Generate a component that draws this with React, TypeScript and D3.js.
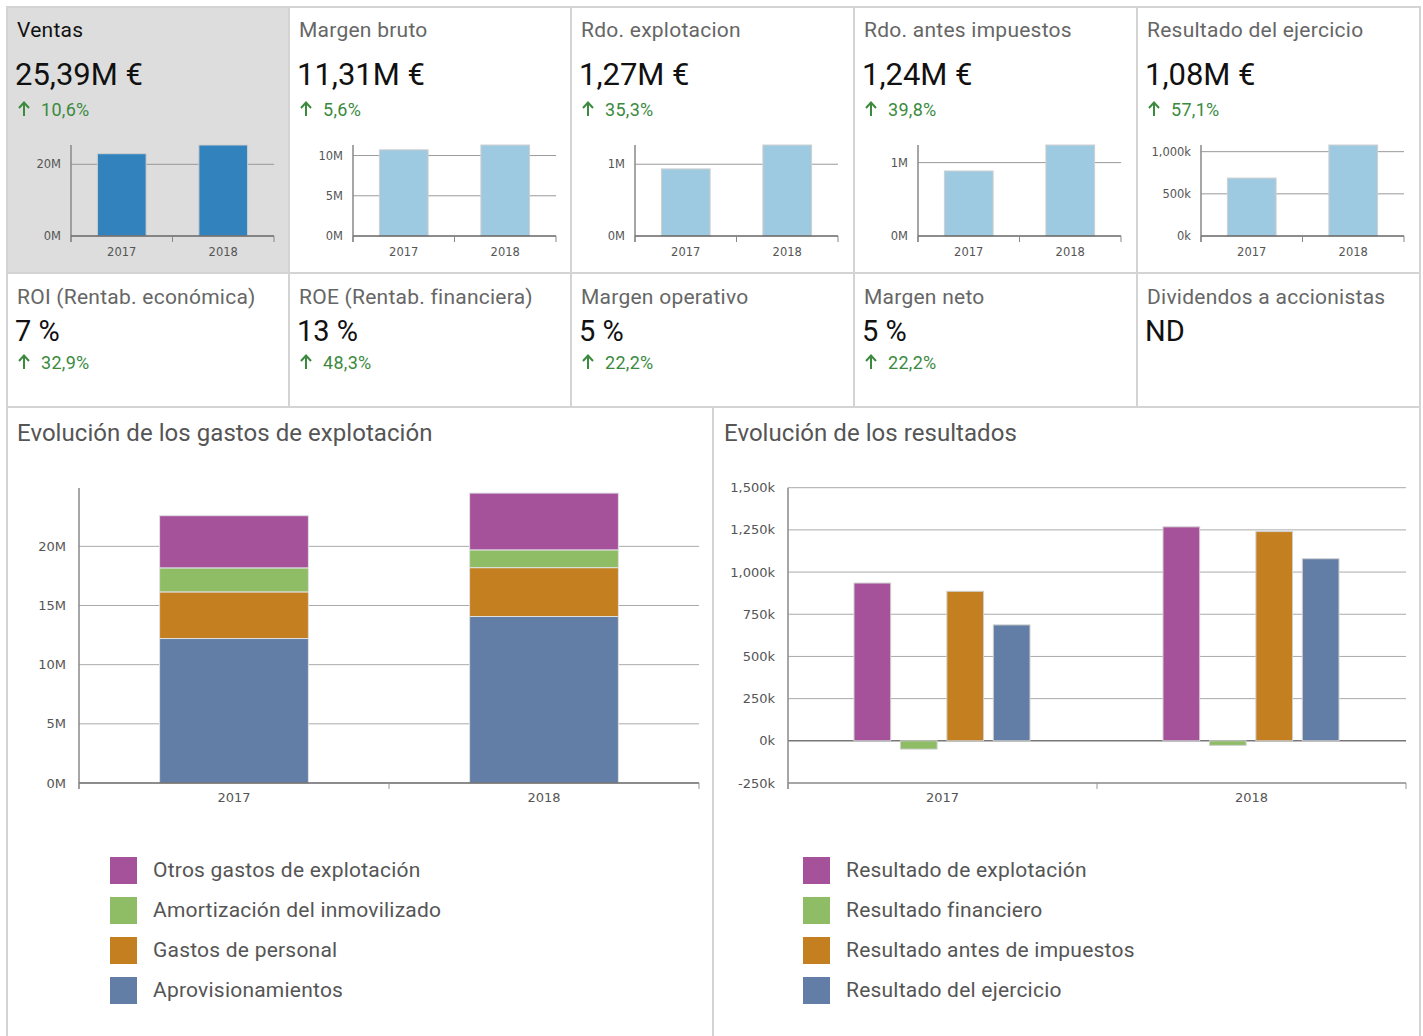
import React from 'react';
import * as d3 from 'd3';

const years = ['2017', '2018'];

const kpiTitles = ['Ventas', 'Margen bruto', 'Rdo. explotacion', 'Rdo. antes impuestos', 'Resultado del ejercicio'];
const kpiValues = ['25,39M €', '11,31M €', '1,27M €', '1,24M €', '1,08M €'];
const kpiChanges = ['10,6%', '5,6%', '35,3%', '39,8%', '57,1%'];

const ventas = [22.96e6, 25.39e6];
const margenBruto = [10.71e6, 11.31e6];
const rdoExplotacion = [0.935e6, 1.268e6];
const rdoAntesImpuestos = [0.886e6, 1.24e6];
const resultadoEjercicio = [0.687e6, 1.079e6];

const miniTicks = [
  [0, 20e6],
  [0, 5e6, 10e6],
  [0, 1e6],
  [0, 1e6],
  [0, 500e3, 1000e3],
];
const miniTickUnit = ['M', 'M', 'M', 'M', 'k'];

const ratioTitles = ['ROI (Rentab. económica)', 'ROE (Rentab. financiera)', 'Margen operativo', 'Margen neto', 'Dividendos a accionistas'];
const ratioValues = ['7 %', '13 %', '5 %', '5 %', 'ND'];
const ratioChanges = ['32,9%', '48,3%', '22,2%', '22,2%', ''];

// Gastos de explotación (stacked)
const gastosSeries = ['Aprovisionamientos', 'Gastos de personal', 'Amortización del inmovilizado', 'Otros gastos de explotación'];
const aprovisionamientos = [12.21e6, 14.07e6];
const gastosPersonal = [3.94e6, 4.13e6];
const amortizacion = [2.03e6, 1.5e6];
const otrosGastos = [4.41e6, 4.8e6];
const gastosTicks = [0, 5e6, 10e6, 15e6, 20e6];

// Resultados (grouped)
const resultadosSeries = ['Resultado de explotación', 'Resultado financiero', 'Resultado antes de impuestos', 'Resultado del ejercicio'];
const resExplotacion = [935e3, 1268e3];
const resFinanciero = [-49e3, -27e3];
const resAntesImpuestos = [886e3, 1240e3];
const resEjercicio = [687e3, 1079e3];
const resultadosTicks = [-250e3, 0, 250e3, 500e3, 750e3, 1000e3, 1250e3, 1500e3];

const C_PURPLE = '#a6529a';
const C_GREEN = '#8fbd66';
const C_ORANGE = '#c48020';
const C_BLUE = '#627ea6';
const C_DARKBLUE = '#3182bd';
const C_LIGHTBLUE = '#9ecae1';
const GREEN_TXT = '#3b8a3e';
const FRAME = '#d4d4d4';
const ROBOTO = 'Roboto, sans-serif';
const DEJAVU = '"DejaVu Sans", sans-serif';

const colX = [7, 289, 571, 854, 1137, 1420];

const fmtNum = (v: number) => d3.format(',')(v).replace('−', '-');

function Arrow({ x, y }: { x: number; y: number }) {
  return (
    <g stroke={GREEN_TXT} fill="none" strokeWidth={2}>
      <line x1={x} x2={x} y1={y} y2={y - 13} />
      <path d={`M${x - 5},${y - 8} L${x},${y - 13.5} L${x + 5},${y - 8}`} />
    </g>
  );
}

function MiniChart({ x0, values, ticks, unit, color }: any) {
  const left = x0 + 64;
  const right = x0 + 267;
  const top = 145;
  const bottom = 236;
  const xs = d3.scaleBand().domain(years).range([left, right]).padding(0);
  const ys = d3.scaleLinear().domain([0, d3.max(values) as number]).range([bottom, top]);
  const bw = xs.bandwidth() * 0.48;
  const fmt = (v: number) => (unit === 'M' ? fmtNum(v / 1e6) + 'M' : fmtNum(v / 1e3) + 'k');
  return (
    <g>
      {ticks.filter((t: number) => t !== 0).map((t: number) => (
        <line key={t} x1={left} x2={right} y1={ys(t)} y2={ys(t)} stroke="#999" strokeWidth={1} />
      ))}
      {values.map((v: number, i: number) => {
        const cx = (xs(years[i]) as number) + xs.bandwidth() / 2;
        return (
          <rect key={i} x={cx - bw / 2} y={ys(v)} width={bw} height={ys(0) - ys(v)} fill={color} stroke="#cfcfcf" strokeWidth={1} />
        );
      })}
      <line x1={left} x2={left} y1={top} y2={bottom + 6} stroke="#888" strokeWidth={1.5} />
      <line x1={left} x2={right} y1={bottom} y2={bottom} stroke="#666" strokeWidth={1.5} />
      {[left, (left + right) / 2, right].map((x, i) => (
        <line key={i} x1={x} x2={x} y1={bottom} y2={bottom + 6} stroke="#888" strokeWidth={1} />
      ))}
      {ticks.map((t: number) => (
        <text key={t} x={left - 10} y={ys(t) + 4} textAnchor="end" fontFamily={DEJAVU} fontSize={11.5} fill="#555">
          {fmt(t)}
        </text>
      ))}
      {years.map((yr) => (
        <text key={yr} x={(xs(yr) as number) + xs.bandwidth() / 2} y={bottom + 20} textAnchor="middle" fontFamily={DEJAVU} fontSize={11.5} fill="#555">
          {yr}
        </text>
      ))}
    </g>
  );
}

function Legend({ x, items, colors }: any) {
  return (
    <g>
      {items.map((it: string, i: number) => (
        <g key={it}>
          <rect x={x} y={857 + i * 40} width={27} height={27} fill={colors[i]} />
          <text x={x + 43} y={877 + i * 40} fontFamily={ROBOTO} fontSize={21} letterSpacing={0.22} fill="#555">
            {it}
          </text>
        </g>
      ))}
    </g>
  );
}

function GastosChart() {
  const left = 79, right = 699, top = 488, bottom = 783;
  const xs = d3.scaleBand().domain(years).range([left, right]).padding(0);
  const ys = d3.scaleLinear().domain([0, 24.93e6]).range([bottom, top]);
  const rows = years.map((y, i) => ({
    year: y,
    a: aprovisionamientos[i],
    g: gastosPersonal[i],
    am: amortizacion[i],
    o: otrosGastos[i],
  }));
  const keys = ['a', 'g', 'am', 'o'];
  const colors = [C_BLUE, C_ORANGE, C_GREEN, C_PURPLE];
  const stack = d3.stack<any>().keys(keys)(rows);
  const bw = xs.bandwidth() * 0.48;
  return (
    <g>
      {gastosTicks.filter((t) => t !== 0).map((t) => (
        <line key={t} x1={left} x2={right} y1={ys(t)} y2={ys(t)} stroke="#aaa" strokeWidth={1} />
      ))}
      {stack.map((layer, li) =>
        layer.map((d, i) => {
          const cx = (xs(years[i]) as number) + xs.bandwidth() / 2;
          return (
            <rect key={li + '-' + i} x={cx - bw / 2} y={ys(d[1])} width={bw} height={ys(d[0]) - ys(d[1])} fill={colors[li]} stroke="#e0e0e0" strokeWidth={1} />
          );
        })
      )}
      <line x1={left} x2={left} y1={top} y2={bottom + 6} stroke="#888" strokeWidth={1.5} />
      <line x1={left} x2={right} y1={bottom} y2={bottom} stroke="#666" strokeWidth={1.5} />
      {[left, (left + right) / 2, right].map((x, i) => (
        <line key={i} x1={x} x2={x} y1={bottom} y2={bottom + 6} stroke="#999" strokeWidth={1} />
      ))}
      {gastosTicks.map((t) => (
        <text key={t} x={left - 13} y={ys(t) + 4.5} textAnchor="end" fontFamily={DEJAVU} fontSize={13} fill="#555">
          {fmtNum(t / 1e6) + 'M'}
        </text>
      ))}
      {years.map((yr) => (
        <text key={yr} x={(xs(yr) as number) + xs.bandwidth() / 2} y={bottom + 19} textAnchor="middle" fontFamily={DEJAVU} fontSize={13} fill="#555">
          {yr}
        </text>
      ))}
    </g>
  );
}

function ResultadosChart() {
  const left = 788, right = 1406, top = 487.7, bottom = 783;
  const xs = d3.scaleBand().domain(years).range([left, right]).padding(0);
  const ys = d3.scaleLinear().domain([-250e3, 1500e3]).range([bottom, top]);
  const series = [resExplotacion, resFinanciero, resAntesImpuestos, resEjercicio];
  const colors = [C_PURPLE, C_GREEN, C_ORANGE, C_BLUE];
  const inner = d3.scaleBand().domain(resultadosSeries).range([66, 242]).paddingInner(0.21).paddingOuter(0);
  return (
    <g>
      {resultadosTicks.filter((t) => t !== -250e3 && t !== 0).map((t) => (
        <line key={t} x1={left} x2={right} y1={ys(t)} y2={ys(t)} stroke="#aaa" strokeWidth={1} />
      ))}
      <line x1={left} x2={right} y1={ys(0)} y2={ys(0)} stroke="#777" strokeWidth={1.5} />
      {years.map((yr, i) =>
        series.map((s, si) => {
          const x = (xs(yr) as number) + (inner(resultadosSeries[si]) as number);
          const v = s[i];
          const y0 = ys(Math.max(0, v));
          const h = Math.abs(ys(v) - ys(0));
          return (
            <rect key={yr + si} x={x} y={y0} width={inner.bandwidth()} height={h} fill={colors[si]} stroke="#d0d0d0" strokeWidth={1} />
          );
        })
      )}
      <line x1={left} x2={left} y1={top} y2={bottom + 6} stroke="#888" strokeWidth={1.5} />
      <line x1={left} x2={right} y1={bottom} y2={bottom} stroke="#888" strokeWidth={1.5} />
      {[left, (left + right) / 2, right].map((x, i) => (
        <line key={i} x1={x} x2={x} y1={bottom} y2={bottom + 6} stroke="#999" strokeWidth={1} />
      ))}
      {resultadosTicks.map((t) => (
        <text key={t} x={left - 13} y={ys(t) + 4.5} textAnchor="end" fontFamily={DEJAVU} fontSize={13} fill="#555">
          {fmtNum(t / 1e3) + 'k'}
        </text>
      ))}
      {years.map((yr) => (
        <text key={yr} x={(xs(yr) as number) + xs.bandwidth() / 2} y={bottom + 19} textAnchor="middle" fontFamily={DEJAVU} fontSize={13} fill="#555">
          {yr}
        </text>
      ))}
    </g>
  );
}

export default function App() {
  const miniValues = [ventas, margenBruto, rdoExplotacion, rdoAntesImpuestos, resultadoEjercicio];
  return (
    <svg width={1423} height={1036} style={{ position: 'absolute', left: 0, top: 0, background: '#fff' }}>
      <rect x={0} y={0} width={1423} height={1036} fill="#fff" />
      <rect x={colX[0]} y={7} width={colX[1] - colX[0]} height={266} fill="#dddddd" />
      {kpiTitles.map((t, i) => {
        const x0 = colX[i];
        return (
          <g key={t}>
            <text x={x0 + 10} y={37} fontFamily={ROBOTO} fontSize={21} letterSpacing={0.25} fill={i === 0 ? '#111' : '#666'}>
              {t}
            </text>
            <text x={x0 + 8} y={85} fontFamily={ROBOTO} fontSize={31} fill="#111">
              {kpiValues[i]}
            </text>
            <Arrow x={x0 + 17} y={116} />
            <text x={x0 + 34} y={116} fontFamily={ROBOTO} fontSize={18} letterSpacing={0.3} fill={GREEN_TXT}>
              {kpiChanges[i]}
            </text>
            <MiniChart x0={x0} values={miniValues[i]} ticks={miniTicks[i]} unit={miniTickUnit[i]} color={i === 0 ? C_DARKBLUE : C_LIGHTBLUE} />
          </g>
        );
      })}
      {ratioTitles.map((t, i) => {
        const x0 = colX[i];
        return (
          <g key={t}>
            <text x={x0 + 10} y={304} fontFamily={ROBOTO} fontSize={21} letterSpacing={0.25} fill="#666">
              {t}
            </text>
            <text x={x0 + 8} y={341} fontFamily={ROBOTO} fontSize={29} fill="#111">
              {ratioValues[i]}
            </text>
            {ratioChanges[i] && (
              <g>
                <Arrow x={x0 + 17} y={369} />
                <text x={x0 + 34} y={369} fontFamily={ROBOTO} fontSize={18} letterSpacing={0.3} fill={GREEN_TXT}>
                  {ratioChanges[i]}
                </text>
              </g>
            )}
          </g>
        );
      })}
      <g stroke={FRAME} strokeWidth={2} fill="none">
        <rect x={7} y={7} width={1413} height={1040} />
        <line x1={7} x2={1420} y1={273} y2={273} />
        <line x1={7} x2={1420} y1={407} y2={407} />
        {colX.slice(1, 5).map((x) => (
          <line key={x} x1={x} x2={x} y1={7} y2={407} />
        ))}
        <line x1={713} x2={713} y1={407} y2={1036} />
      </g>
      <text x={17} y={441} fontFamily={ROBOTO} fontSize={24} letterSpacing={0.05} fill="#555">
        Evolución de los gastos de explotación
      </text>
      <text x={724} y={441} fontFamily={ROBOTO} fontSize={24} letterSpacing={0.05} fill="#555">
        Evolución de los resultados
      </text>
      <GastosChart />
      <ResultadosChart />
      <Legend x={110} items={[gastosSeries[3], gastosSeries[2], gastosSeries[1], gastosSeries[0]]} colors={[C_PURPLE, C_GREEN, C_ORANGE, C_BLUE]} />
      <Legend x={803} items={resultadosSeries} colors={[C_PURPLE, C_GREEN, C_ORANGE, C_BLUE]} />
    </svg>
  );
}
